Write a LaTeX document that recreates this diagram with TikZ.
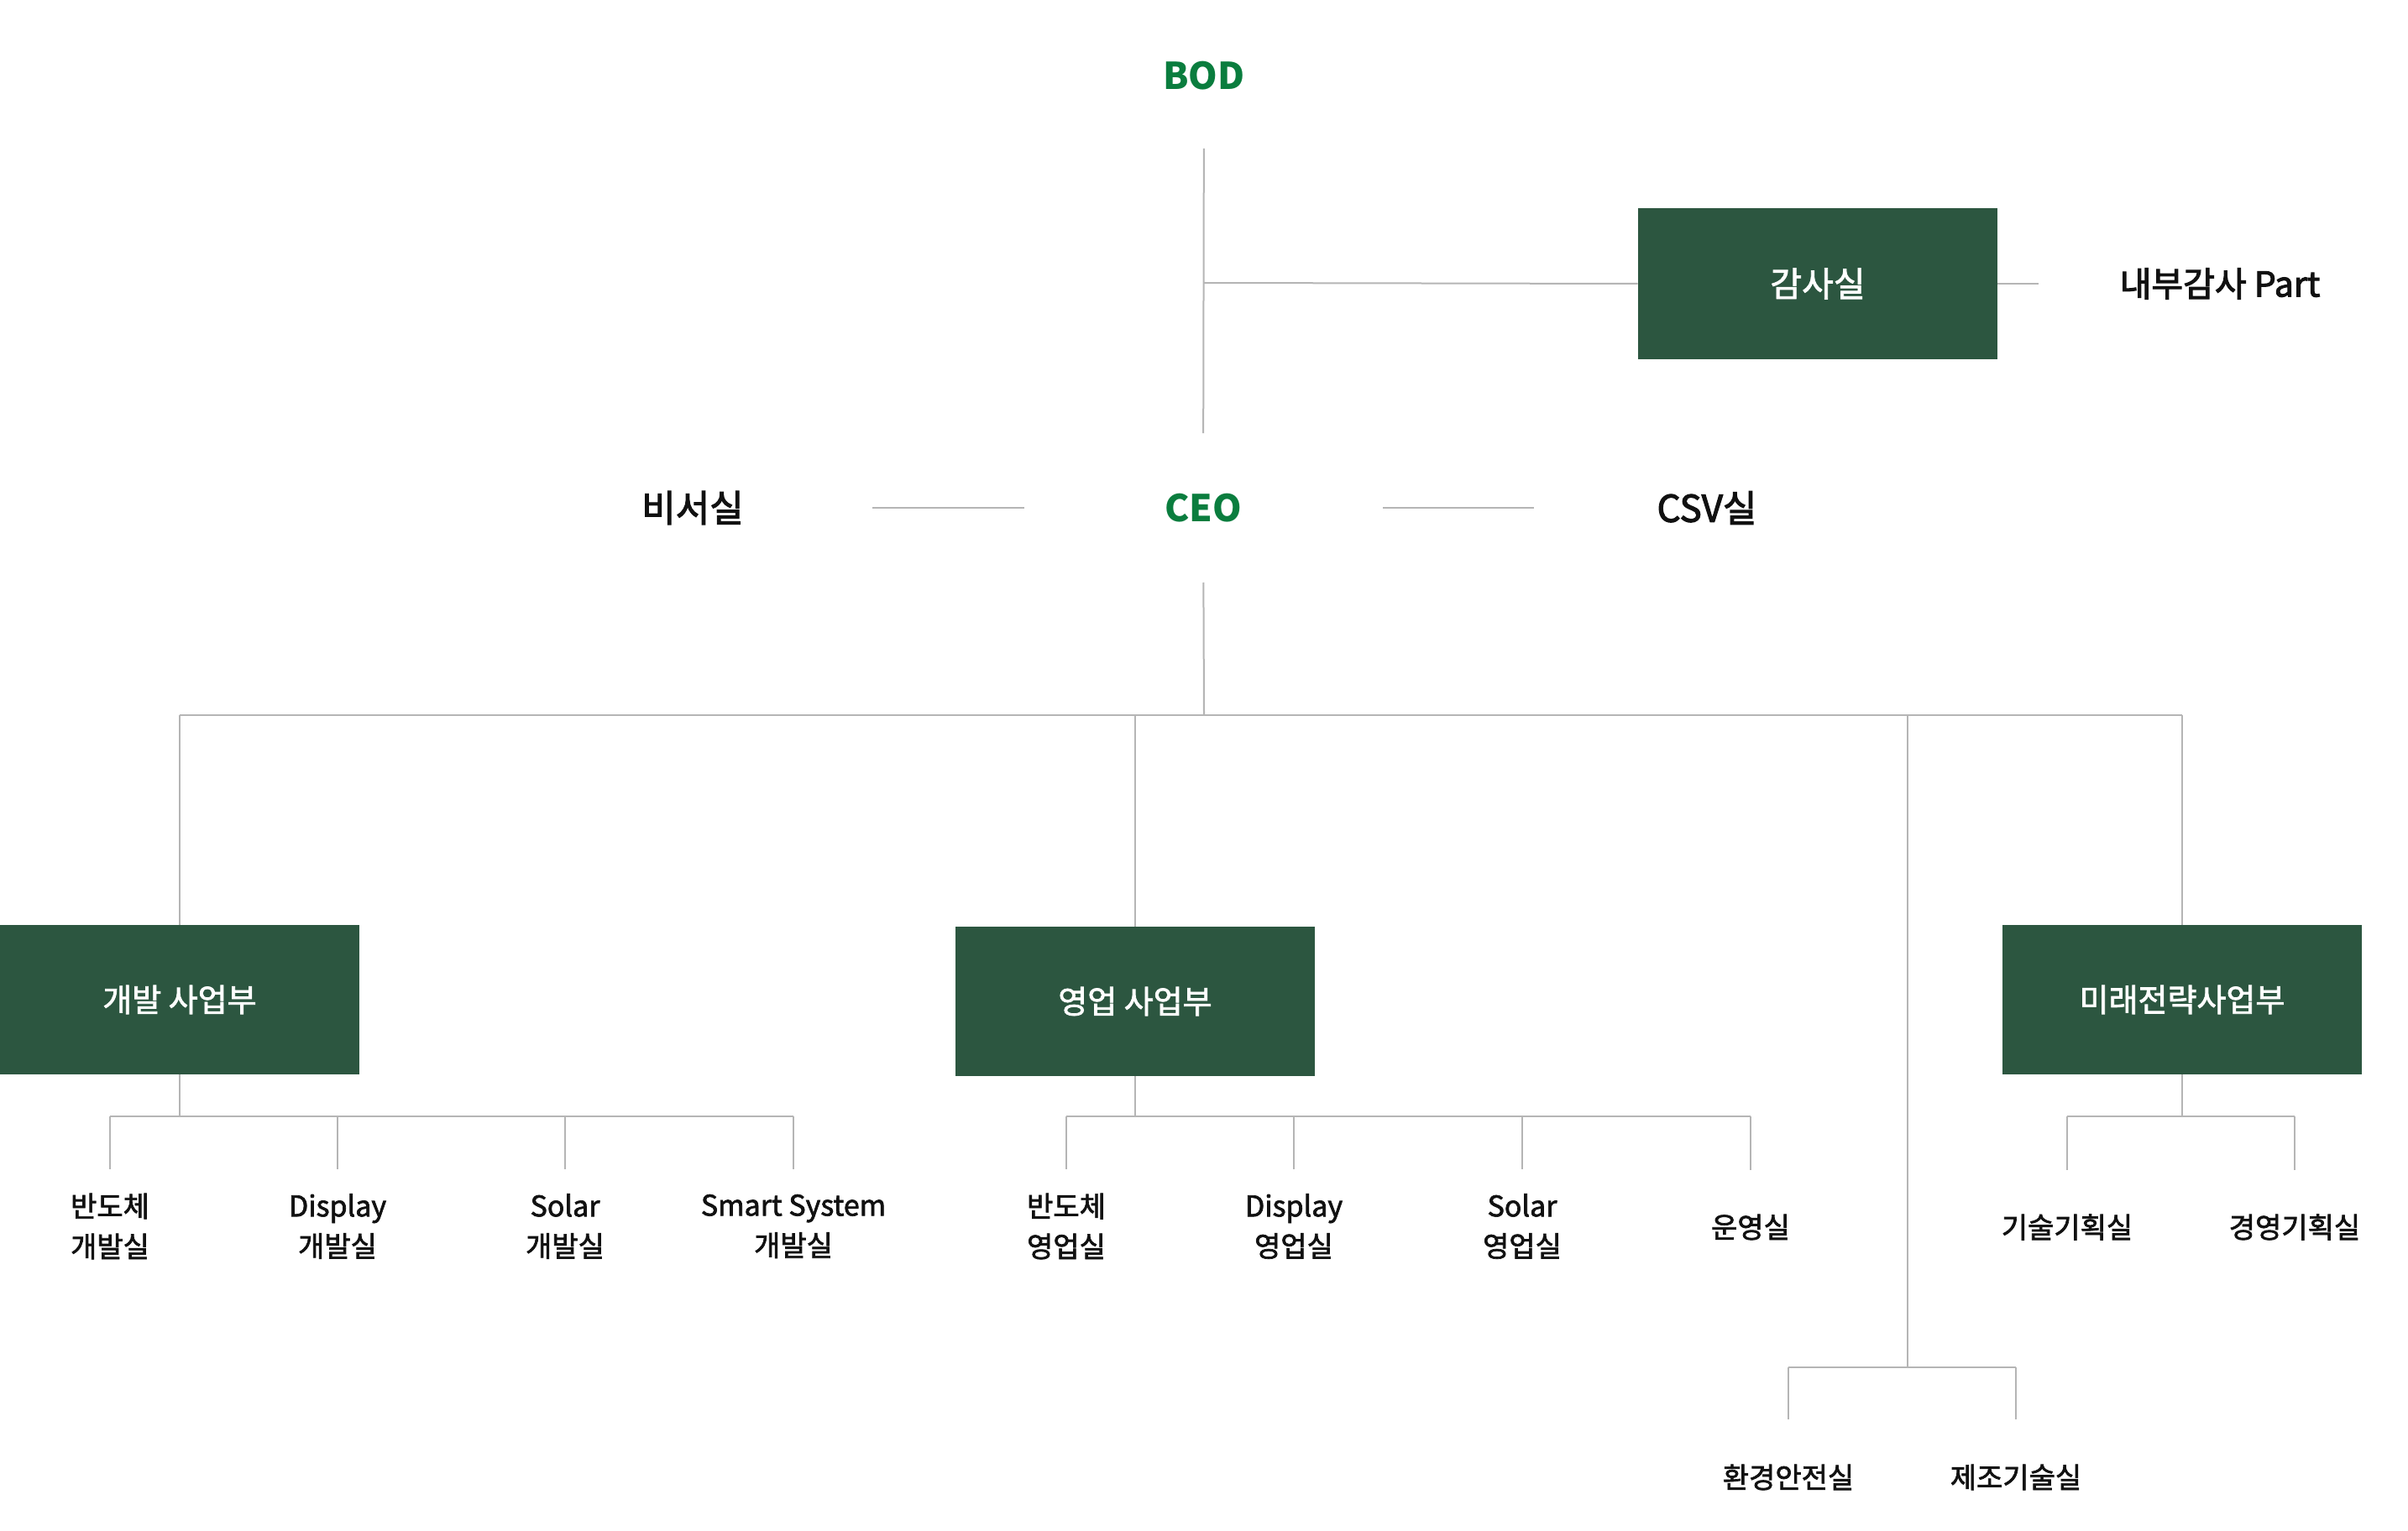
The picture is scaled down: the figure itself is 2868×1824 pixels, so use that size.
\documentclass[tikz,border=0pt]{standalone}
\usepackage{fontspec}
\setmainfont{Noto Sans CJK KR}
\newfontfamily\medfont{Noto Sans CJK KR}[FakeBold=2.0]
\newfontfamily\semifont{Noto Sans CJK KR}[FakeBold=2.6]
\definecolor{linegray}{HTML}{B5B5B5}
\definecolor{boxgreen}{HTML}{2C5640}
\definecolor{titlegreen}{HTML}{0A7D3E}
\definecolor{ink}{HTML}{111111}
\begin{document}
\begin{tikzpicture}[x=0.5pt,y=-0.5pt,
  conn/.style={draw=linegray, line width=1pt},
  box/.style={fill=boxgreen, text=white, minimum width=214pt, minimum height=89pt, inner sep=0pt, font=\medfont\fontsize{19}{23}\selectfont},
  leaf/.style={text=ink, align=center, inner sep=0pt, font=\medfont\fontsize{17}{24}\selectfont},
  toplabel/.style={text=ink, inner sep=0pt, font=\semifont\fontsize{22}{26}\selectfont},
  greenlabel/.style={text=titlegreen, inner sep=0pt, font=\bfseries\fontsize{22}{26}\selectfont}]
\useasboundingbox (0,0) rectangle (2868,1824);
\fill[white] (0,0) rectangle (2868,1824);

% top level
\node[greenlabel] (bod) at (1434,90) {BOD};
\node[greenlabel] (ceo) at (1433,605) {CEO};
\node[toplabel] (sec) at (825,605) {비서실};
\node[toplabel] (csv) at (2033,605) {CSV실};
\node[box, minimum height=90pt, font=\medfont\fontsize{20.5}{24}\selectfont] (audit) at (2165,338) {감사실};
\node[toplabel, font=\semifont\fontsize{20.5}{24}\selectfont] (part) at (2644,338) {내부감사 Part};

% divisions
\node[box] (dev) at (214,1191) {개발 사업부};
\node[box] (sales) at (1352,1193) {영업 사업부};
\node[box] (fut) at (2599,1191) {미래전략사업부};

% junction coordinates
\coordinate (j1) at (1434,337);
\coordinate (b0) at (1434,852);
\coordinate (m0) at (2272,852);
\coordinate (m1) at (2272,1629);
\coordinate (dbar) at (0,1330);

% leaves
\node[leaf] (c11) at (131,1461) {반도체\\개발실};
\node[leaf] (c12) at (402,1461) {Display\\개발실};
\node[leaf] (c13) at (673,1461) {Solar\\개발실};
\node[leaf] (c14) at (945,1461) {Smart System\\개발실};
\node[leaf] (c21) at (1270,1461) {반도체\\영업실};
\node[leaf] (c22) at (1541,1461) {Display\\영업실};
\node[leaf] (c23) at (1813,1461) {Solar\\영업실};
\node[leaf] (c24) at (2085,1462) {운영실};
\node[leaf] (c31) at (2462,1462) {기술기획실};
\node[leaf] (c32) at (2733,1462) {경영기획실};
\node[leaf] (c41) at (2130,1760) {환경안전실};
\node[leaf] (c42) at (2401,1760) {제조기술실};

% connectors: top
\draw[conn, shorten <=43.5pt, shorten >=44.5pt] (bod.center) -- (ceo.center);
\draw[conn] (j1) -- (audit.west);
\draw[conn, shorten >=48pt] (audit.east) -- (part.west);
\draw[conn, shorten <=107pt, shorten >=106.5pt] (sec.center) -- (ceo.center);
\draw[conn, shorten <=107pt, shorten >=103pt] (ceo.center) -- (csv.center);

% CEO to divisions
\draw[conn, shorten <=44.5pt] (ceo.center) -- (b0);
\draw[conn] (dev.north |- b0) -- (fut.north |- b0);
\draw[conn] (dev.north |- b0) -- (dev.north);
\draw[conn] (sales.north |- b0) -- (sales.north);
\draw[conn] (fut.north |- b0) -- (fut.north);
\draw[conn] (m0) -- (m1);

% development children
\draw[conn] (dev.south) -- (dev.south |- dbar);
\draw[conn] (c11 |- dbar) -- (c14 |- dbar);
\foreach \c in {c11,c12,c13,c14} \draw[conn, shorten >=34pt] (\c |- dbar) -- (\c.center);

% sales children
\draw[conn] (sales.south) -- (sales.south |- dbar);
\draw[conn] (c21 |- dbar) -- (c24 |- dbar);
\foreach \c in {c21,c22,c23,c24} \draw[conn, shorten >=34pt] (\c |- dbar) -- (\c.center);

% future strategy children
\draw[conn] (fut.south) -- (fut.south |- dbar);
\draw[conn] (c31 |- dbar) -- (c32 |- dbar);
\foreach \c in {c31,c32} \draw[conn, shorten >=34pt] (\c |- dbar) -- (\c.center);

% direct offices
\draw[conn] (c41 |- m1) -- (c42 |- m1);
\foreach \c in {c41,c42} \draw[conn, shorten >=34.5pt] (\c |- m1) -- (\c.center);
\end{tikzpicture}
\end{document}
